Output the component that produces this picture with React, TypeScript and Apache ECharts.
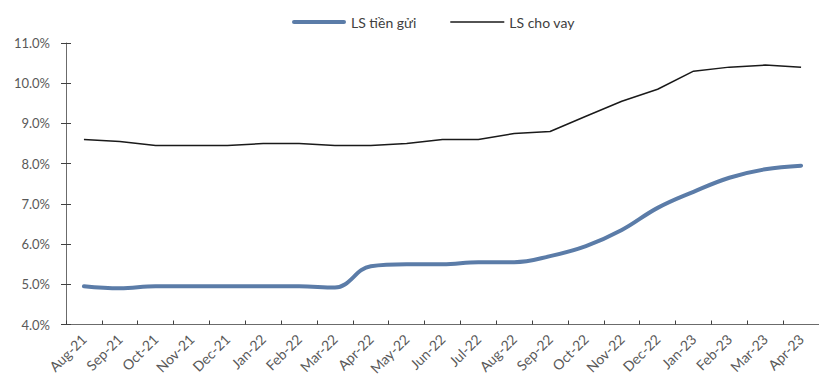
import React, { useEffect, useRef } from "react";
import * as echarts from "echarts";

const categories = [
  "Aug-21", "Sep-21", "Oct-21", "Nov-21", "Dec-21", "Jan-22", "Feb-22", "Mar-22",
  "Apr-22", "May-22", "Jun-22", "Jul-22", "Aug-22", "Sep-22", "Oct-22", "Nov-22",
  "Dec-22", "Jan-23", "Feb-23", "Mar-23", "Apr-23",
];
const depositRate = [
  4.95, 4.9, 4.95, 4.95, 4.95, 4.95, 4.95, 4.92, 5.45, 5.5, 5.5, 5.55, 5.55, 5.7,
  5.95, 6.35, 6.9, 7.3, 7.65, 7.86, 7.95,
];
const lendingRate = [
  8.6, 8.55, 8.45, 8.45, 8.45, 8.5, 8.5, 8.45, 8.45, 8.5, 8.6, 8.6, 8.75, 8.8,
  9.18, 9.55, 9.85, 10.3, 10.4, 10.45, 10.4,
];
const seriesNames = ["LS tiền gửi", "LS cho vay"];

const FONT = "Lato";
const LABEL_COLOR = "#595959";
const AXIS_COLOR = "#6b6b6b";
const BLUE = "#5b7ca8";
const BLACK = "#1a1a1a";

export default function App() {
  const ref = useRef<HTMLDivElement>(null);
  useEffect(() => {
    document.body.style.margin = "0";
    if (!ref.current) return;
    const chart = echarts.init(ref.current, undefined, { renderer: "svg" });
    chart.setOption({
      animation: false,
      backgroundColor: "#ffffff",
      textStyle: { fontFamily: FONT },
      legend: {
        top: 10,
        left: 287,
        itemWidth: 54,
        itemHeight: 12,
        itemGap: 34,
        symbolKeepAspect: true,
        textStyle: { fontFamily: FONT, fontSize: 14, color: "#404040" },
        data: [
          {
            name: seriesNames[0],
            icon: "path://M2,0h50a2,2 0 0 1 0,4h-50a2,2 0 0 1 0,-4z",
            itemStyle: { color: BLUE },
          },
          {
            name: seriesNames[1],
            icon: "path://M0,0h54v1.5h-54z",
            itemStyle: { color: BLACK },
          },
        ],
      },
      grid: { left: 66, right: -8.6, top: 43, bottom: 53.5, containLabel: false },
      xAxis: {
        type: "category",
        data: categories,
        boundaryGap: true,
        axisLine: { lineStyle: { color: AXIS_COLOR, width: 1 } },
        axisTick: { show: true, inside: true, length: 4, lineStyle: { color: "#404040" } },
        axisLabel: {
          rotate: 45,
          interval: 0,
          margin: 12,
          fontFamily: FONT,
          fontSize: 14,
          color: LABEL_COLOR,
        },
      },
      yAxis: [
        {
          type: "value",
          min: 4,
          max: 11,
          interval: 1,
          axisLine: { show: true, lineStyle: { color: AXIS_COLOR, width: 1 } },
          axisTick: { show: true, length: 5, lineStyle: { color: "#404040" } },
          splitLine: { show: false },
          axisLabel: {
            margin: 16,
            fontFamily: FONT,
            fontSize: 13,
            color: LABEL_COLOR,
            formatter: (v: number) => v.toFixed(1) + "%",
          },
        },
        {
          type: "value",
          position: "left",
          min: 4,
          max: 11,
          interval: 1,
          axisLine: { show: false },
          axisTick: { show: true, inside: true, length: 5, lineStyle: { color: "#404040" } },
          splitLine: { show: false },
          axisLabel: { show: false },
        },
      ],
      series: [
        {
          name: seriesNames[0],
          type: "line",
          data: depositRate,
          smooth: 0.4,
          symbol: "none",
          lineStyle: { color: BLUE, width: 4, cap: "round" },
          itemStyle: { color: BLUE },
        },
        {
          name: seriesNames[1],
          type: "line",
          data: lendingRate,
          smooth: false,
          symbol: "none",
          lineStyle: { color: BLACK, width: 1.5 },
          itemStyle: { color: BLACK },
        },
      ],
    });
    return () => chart.dispose();
  }, []);
  return <div ref={ref} style={{ width: 819, height: 378 }} />;
}
